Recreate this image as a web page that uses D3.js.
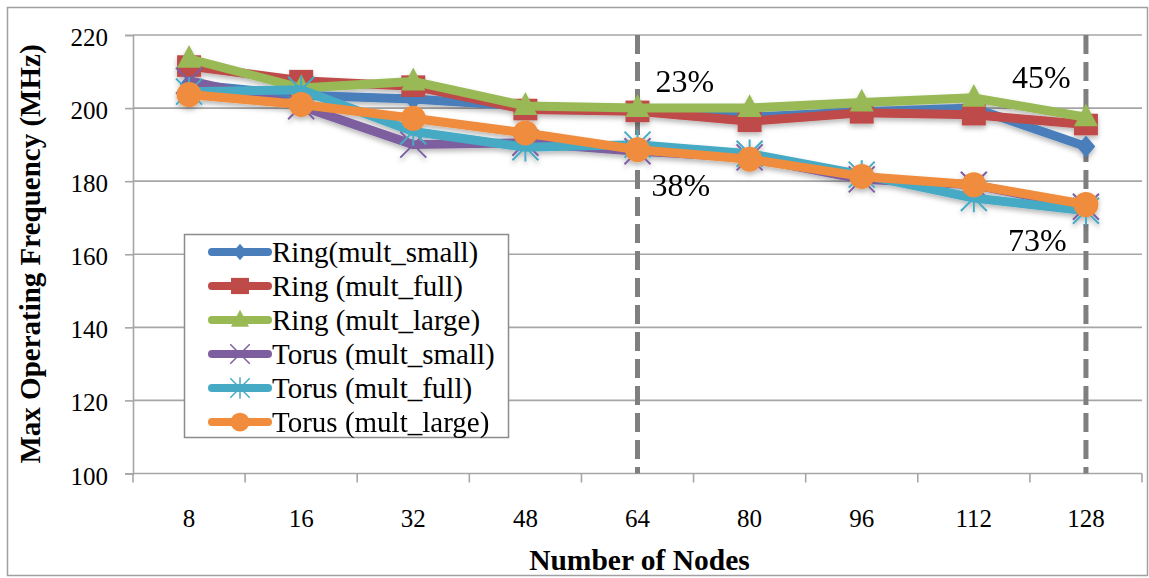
<!DOCTYPE html>
<html>
<head>
<meta charset="utf-8">
<script src="https://cdn.jsdelivr.net/npm/d3@7"></script>
<style>
  html, body { margin: 0; padding: 0; background: #fff; }
  svg { display: block; }
</style>
</head>
<body>
<svg id="chart" width="1149" height="578"></svg>
<script>
// Number of nodes on the x axis
const categories = ["8", "16", "32", "48", "64", "80", "96", "112", "128"];
const yTicks = [100, 120, 140, 160, 180, 200, 220];

// Max operating frequency (MHz) for each configuration
const ringMultSmall  = [206.5, 203.5, 202.5, 200.5, 199.5, 197.5, 199.0, 200.0, 189.5];
const ringMultFull   = [211.5, 207.5, 206.0, 199.6, 199.1, 196.4, 198.7, 198.2, 195.5];
const ringMultLarge  = [213.5, 205.5, 207.3, 200.6, 200.0, 200.0, 201.5, 202.8, 197.5];
const torusMultSmall = [207.5, 200.5, 190.0, 190.5, 188.2, 186.5, 180.5, 179.0, 173.0];
const torusMultFull  = [204.5, 205.0, 193.6, 189.3, 190.0, 187.5, 181.8, 175.4, 171.9];
const torusMultLarge = [203.7, 201.0, 197.2, 193.2, 188.6, 186.0, 181.3, 179.0, 173.6];

const seriesNames = ["Ring(mult_small)", "Ring (mult_full)", "Ring (mult_large)",
                     "Torus (mult_small)", "Torus (mult_full)", "Torus (mult_large)"];
const seriesValues = [ringMultSmall, ringMultFull, ringMultLarge,
                      torusMultSmall, torusMultFull, torusMultLarge];
const seriesColors = ["#4A7EBB", "#BE4B48", "#98B954", "#7D5FA0", "#46AAC5", "#F08C3C"];
const seriesMarkers = ["diamond", "square", "triangle", "x", "star", "circle"];

// Percentage call-outs at 64 and 128 nodes
const markerLines = ["64", "128"];
const notes = [
  { cat: "64",  value: 204.5, text: "23%", dx: 18 },
  { cat: "64",  value: 176.0, text: "38%", dx: 14 },
  { cat: "128", value: 205.5, text: "45%", dx: -74 },
  { cat: "128", value: 161.0, text: "73%", dx: -78 }
];

const SERIF = "'Liberation Serif', 'Times New Roman', Tinos, 'DejaVu Serif', serif";

const svg = d3.select("#chart");
const plot = { left: 133, right: 1142, top: 35, bottom: 473.5 };

const x = d3.scaleBand().domain(categories).range([plot.left, plot.right]).padding(0);
const y = d3.scaleLinear().domain([100, 220]).range([plot.bottom, plot.top]);
const cx = c => x(c) + x.bandwidth() / 2;

function serifText(sel, size, weight) {
  return sel.attr("font-family", SERIF).style("font-family", SERIF)
    .style("font-size", size + "px").style("font-weight", weight || "normal")
    .attr("fill", "#000");
}

// drop shadow used under the series lines
const defs = svg.append("defs");
const f = defs.append("filter").attr("id", "shadow")
  .attr("x", "-10%").attr("y", "-20%").attr("width", "120%").attr("height", "140%");
f.append("feDropShadow").attr("dx", 0).attr("dy", 3).attr("stdDeviation", 2.5)
  .attr("flood-color", "#000").attr("flood-opacity", 0.28);

// outer frame
svg.append("rect").attr("x", 7.5).attr("y", 7.5).attr("width", 1140).attr("height", 568)
  .attr("fill", "none").attr("stroke", "#a0a0a0").attr("stroke-width", 1.5);

// horizontal gridlines
svg.append("g").selectAll("line").data(yTicks.filter(t => t > 100)).join("line")
  .attr("x1", plot.left).attr("x2", plot.right)
  .attr("y1", d => y(d)).attr("y2", d => y(d))
  .attr("stroke", "#a6a6a6").attr("stroke-width", 1.6);

// y axis
const yAxis = svg.append("g").attr("transform", `translate(${plot.left},0)`)
  .call(d3.axisLeft(y).tickValues(yTicks).tickSize(8).tickPadding(0).tickFormat(d3.format("d")));
yAxis.attr("font-family", SERIF);
yAxis.select(".domain").attr("stroke", "#a6a6a6").attr("stroke-width", 1.6);
yAxis.selectAll(".tick line").attr("stroke", "#a6a6a6").attr("stroke-width", 1.6);
serifText(yAxis.selectAll(".tick text").attr("x", -25).attr("dy", "0.42em"), 25);

// x axis (ticks between categories)
const xAxisG = svg.append("g").attr("transform", `translate(0,${plot.bottom})`);
xAxisG.append("line").attr("x1", plot.left).attr("x2", plot.right)
  .attr("stroke", "#a6a6a6").attr("stroke-width", 1.6);
const bounds = categories.map(c => x(c)).concat([plot.right]);
xAxisG.selectAll("line.tk").data(bounds).join("line").attr("class", "tk")
  .attr("x1", d => d).attr("x2", d => d).attr("y1", 0).attr("y2", 9)
  .attr("stroke", "#a6a6a6").attr("stroke-width", 1.6);
serifText(xAxisG.selectAll("text").data(categories).join("text")
  .attr("x", d => cx(d)).attr("y", 53).attr("text-anchor", "middle").text(d => d), 25);

// axis titles
serifText(svg.append("text").attr("x", (plot.left + plot.right) / 2 + 2).attr("y", 570)
  .attr("text-anchor", "middle").text("Number of Nodes"), 29.5, "bold");
serifText(svg.append("text").attr("transform", "translate(40,254) rotate(-90)")
  .attr("text-anchor", "middle").text("Max Operating Frequency (MHz)"), 29, "bold");

// dashed reference lines
svg.append("g").selectAll("line").data(markerLines).join("line")
  .attr("x1", d => cx(d)).attr("x2", d => cx(d))
  .attr("y1", plot.top).attr("y2", plot.bottom)
  .attr("stroke", "#7f7f7f").attr("stroke-width", 5).attr("stroke-dasharray", "19,8");

// marker shapes
function markerPath(type, s) {
  switch (type) {
    case "diamond": return `M0,${-s}L${s * 0.85},0L0,${s}L${-s * 0.85},0Z`;
    case "square": return `M${-s},${-s * 0.9}H${s}V${s * 0.9}H${-s}Z`;
    case "triangle": return `M0,${-s * 1.15}L${s},${s * 0.75}L${-s},${s * 0.75}Z`;
    case "circle": return d3.symbol(d3.symbolCircle, Math.PI * s * s)();
    case "x": return `M${-s},${-s}L${s},${s}M${-s},${s}L${s},${-s}`;
    case "star": return `M${-s},${-s}L${s},${s}M${-s},${s}L${s},${-s}M0,${-s * 1.1}V${s * 1.1}`;
  }
}
const markerSize = { diamond: 11, square: 12, triangle: 12, circle: 12.5, x: 13, star: 13 };
const isLineMarker = t => t === "x" || t === "star";

const line = d3.line().x((d, i) => cx(categories[i])).y(d => y(d));

const seriesG = svg.append("g").attr("filter", "url(#shadow)");
seriesValues.forEach((vals, k) => {
  const g = seriesG.append("g");
  g.append("path").datum(vals).attr("d", line)
    .attr("fill", "none").attr("stroke", seriesColors[k]).attr("stroke-width", 9)
    .attr("stroke-linejoin", "round").attr("stroke-linecap", "round");
  const type = seriesMarkers[k];
  g.selectAll("path.m").data(vals).join("path").attr("class", "m")
    .attr("transform", (d, i) => `translate(${cx(categories[i])},${y(d)})`)
    .attr("d", markerPath(type, markerSize[type]))
    .attr("fill", isLineMarker(type) ? "none" : seriesColors[k])
    .attr("stroke", seriesColors[k])
    .attr("stroke-width", isLineMarker(type) ? 2 : 0);
});

// percentage labels
serifText(svg.append("g").selectAll("text").data(notes).join("text")
  .attr("x", d => cx(d.cat) + d.dx).attr("y", d => y(d.value)).text(d => d.text), 32);

// legend
const lg = svg.append("g").attr("transform", "translate(184,234)");
lg.append("rect").attr("x", 0.5).attr("y", 0.5).attr("width", 324).attr("height", 203)
  .attr("fill", "#fff").attr("stroke", "#8c8c8c").attr("stroke-width", 1.5);
seriesNames.forEach((name, k) => {
  const row = lg.append("g").attr("transform", `translate(0,${18 + k * 34})`);
  row.append("line").attr("x1", 28).attr("x2", 84).attr("y1", 0).attr("y2", 0)
    .attr("stroke", seriesColors[k]).attr("stroke-width", 8).attr("stroke-linecap", "round");
  const type = seriesMarkers[k];
  row.append("path").attr("transform", "translate(56,0)")
    .attr("d", markerPath(type, markerSize[type] * 0.75))
    .attr("fill", isLineMarker(type) ? "none" : seriesColors[k])
    .attr("stroke", seriesColors[k]).attr("stroke-width", isLineMarker(type) ? 1.5 : 0);
  serifText(row.append("text").attr("x", 88).attr("y", 10).text(name), 29);
});
</script>
</body>
</html>
